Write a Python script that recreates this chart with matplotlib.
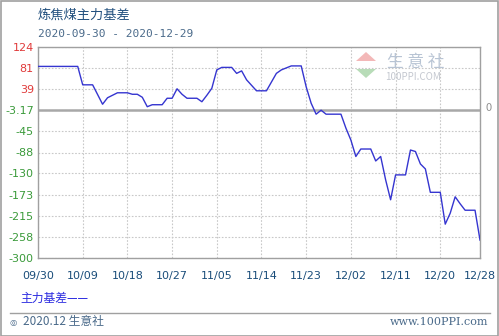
import matplotlib
matplotlib.use("Agg")
import matplotlib.pyplot as plt
from matplotlib.patches import Rectangle, Polygon
import datetime as dt

plt.rcParams['font.family'] = ['Noto Sans CJK SC', 'DejaVu Sans']

title = "炼焦煤主力基差"
subtitle = "2020-09-30 - 2020-12-29"
dates = ["2020-09-30", "2020-10-08", "2020-10-09", "2020-10-11", "2020-10-13", "2020-10-14",
         "2020-10-16", "2020-10-18", "2020-10-19", "2020-10-20", "2020-10-21", "2020-10-22",
         "2020-10-23", "2020-10-25", "2020-10-26", "2020-10-27", "2020-10-28", "2020-10-29",
         "2020-10-30", "2020-11-01", "2020-11-02", "2020-11-03", "2020-11-04", "2020-11-05",
         "2020-11-06", "2020-11-08", "2020-11-09", "2020-11-10", "2020-11-11", "2020-11-13",
         "2020-11-15", "2020-11-17", "2020-11-18", "2020-11-20", "2020-11-22", "2020-11-23",
         "2020-11-24", "2020-11-25", "2020-11-26", "2020-11-27", "2020-11-30", "2020-12-01",
         "2020-12-02", "2020-12-03", "2020-12-04", "2020-12-06", "2020-12-07", "2020-12-08",
         "2020-12-09", "2020-12-10", "2020-12-11", "2020-12-13", "2020-12-14", "2020-12-15",
         "2020-12-16", "2020-12-17", "2020-12-18", "2020-12-20", "2020-12-21", "2020-12-22",
         "2020-12-23", "2020-12-24", "2020-12-25", "2020-12-27", "2020-12-28"]
basis = [85, 85, 48, 48, 9, 22,
         32, 32, 29, 29, 23, 4,
         8, 8, 21, 21, 40, 29,
         21, 21, 14, 27, 41, 78,
         83, 83, 71, 76, 58, 36,
         36, 71, 78, 86, 86, 44,
         11, -11, -3, -11, -11, -39,
         -63, -96, -81, -81, -105, -96,
         -143, -183, -133, -133, -83, -86,
         -111, -121, -168, -168, -232, -210,
         -177, -191, -204, -204, -264]
x_tick_labels = ["09/30", "10/09", "10/18", "10/27", "11/05", "11/14",
                 "11/23", "12/02", "12/11", "12/20", "12/28"]
y_ticks = [124, 81, 39, -3.17, -45, -88, -130, -173, -215, -258, -300]
y_tick_labels = ["124", "81", "39", "-3.17", "-45", "-88", "-130", "-173", "-215", "-258", "-300"]
legend_label = "主力基差——"
footer_left = "2020.12 生意社"
footer_right = "www.100PPI.com"

W, H = 499, 336
fig = plt.figure(figsize=(W / 100, H / 100), dpi=100)
fig.patch.set_facecolor("white")

# outer border
fig.add_artist(Rectangle((0.5 / W, 0.5 / H), 1 - 1.5 / W, 1 - 1.5 / H, transform=fig.transFigure,
                         fill=False, edgecolor="#a0a0a0", lw=1.2))

L, R, T, B = 38, 480, 47, 258
ax = fig.add_axes([L / W, 1 - B / H, (R - L) / W, (B - T) / H])

x = [dt.datetime.strptime(d, "%Y-%m-%d") for d in dates]
ax.plot(x, basis, color="#3535d0", lw=1.0, zorder=3)

xmin = dt.datetime(2020, 9, 30)
xmax = dt.datetime(2020, 12, 28)
ax.set_xlim(xmin, xmax)
ax.set_ylim(-300, 124)

tick_dates = [dt.datetime.strptime("2020/" + s, "%Y/%m/%d") for s in x_tick_labels]
ax.set_xticks(tick_dates)
ax.set_xticklabels(x_tick_labels)
ax.set_yticks(y_ticks)
ax.set_yticklabels(y_tick_labels)

ax.grid(True, color="#c8c8c8", lw=0.8, ls=(0, (1.5, 1.5)))
ax.axhline(-3.17, color="#a8a8a8", lw=1.8, zorder=2)
ax.tick_params(length=0, pad=4)
for lab in ax.get_xticklabels():
    lab.set_color("#1a4d7a")
    lab.set_fontsize(8)
    lab.set_family(["DejaVu Sans"])
for lab, v in zip(ax.get_yticklabels(), y_ticks):
    lab.set_color("#e03a3a" if v > 0 else "#3a9a3a")
    lab.set_fontsize(8)
    lab.set_family(["DejaVu Sans"])
ax.tick_params(axis="x", pad=9)
ax.tick_params(axis="y", pad=3)
for s in ax.spines.values():
    s.set_color("#a0a0a0")
    s.set_linewidth(1.0)

# right-side zero label
fig.text(486 / W, 1 - 108 / H, "0", color="#909090", fontsize=8, va="center", ha="left")

# watermark
wx, wy = 366, 62
fig.add_artist(Polygon([((wx - 10) / W, 1 - (wy - 1) / H), ((wx + 10) / W, 1 - (wy - 1) / H),
                        (wx / W, 1 - (wy - 10) / H)], closed=True, transform=fig.transFigure,
                       facecolor="#f3b8b8", edgecolor="none"))
fig.add_artist(Polygon([((wx - 10) / W, 1 - (wy + 7) / H), ((wx + 10) / W, 1 - (wy + 7) / H),
                        (wx / W, 1 - (wy + 16) / H)], closed=True, transform=fig.transFigure,
                       facecolor="#b8dcb8", edgecolor="none"))
fig.text(387 / W, 1 - 63 / H, "生 意 社", color="#b8c4d4", fontsize=12, va="center", ha="left")
fig.text(385 / W, 1 - 77 / H, "100PPI.COM", color="#c4c8d0", fontsize=7, va="center", ha="left")

# titles
fig.text(38 / W, 1 - 15 / H, title, color="#22507e", fontsize=9.5, va="center", ha="left")
fig.text(38 / W, 1 - 34 / H, subtitle, color="#4a6a8a", fontsize=8, va="center", ha="left",
         family=["DejaVu Sans Mono"])

# legend
fig.text(20 / W, 1 - 298 / H, legend_label, color="#2a2ae0", fontsize=8.5, va="center", ha="left")

# footer
fig.add_artist(plt.Line2D([10 / W, 490 / W], [1 - 313 / H, 1 - 313 / H], transform=fig.transFigure,
                          color="#a0a0a0", lw=1))
fig.text(9 / W, 1 - 322 / H, "◎", color="#4a6a8a", fontsize=6, va="center", ha="left",
         family=["DejaVu Sans"])
fig.text(23 / W, 1 - 322 / H, footer_left, color="#4a6a8a", fontsize=8.5, va="center", ha="left")
fig.text(488 / W, 1 - 322 / H, footer_right, color="#4a6a8a", fontsize=8, va="center", ha="right",
         family=["DejaVu Serif"])

fig.savefig("out.png", dpi=100)
